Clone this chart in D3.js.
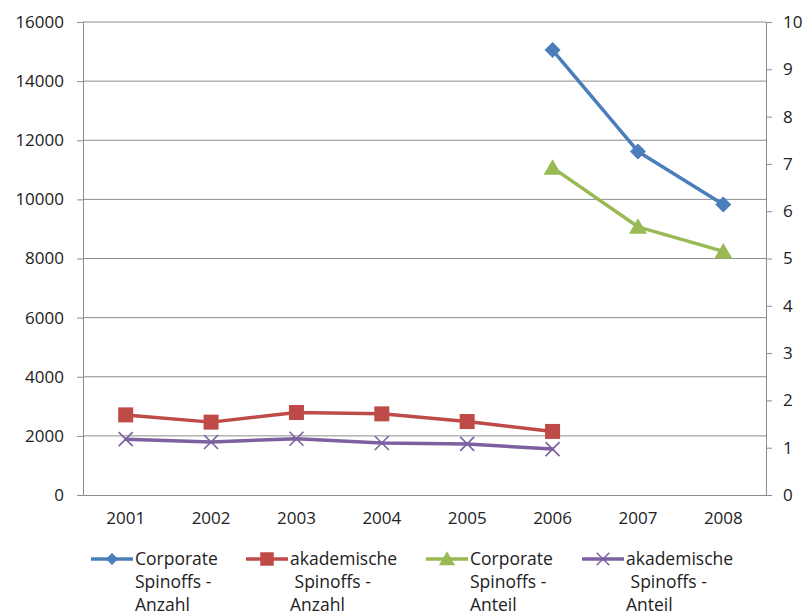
<!DOCTYPE html>
<html>
<head>
<meta charset="utf-8">
<script src="https://cdn.jsdelivr.net/npm/d3@7"></script>
<style>
  body { margin: 0; background: #fff; }
  svg text { font-family: "Open Sans", Lato, sans-serif; fill: #222; }
</style>
</head>
<body>
<svg id="chart" width="808" height="615"></svg>
<script>
// chart data
const years = ['2001', '2002', '2003', '2004', '2005', '2006', '2007', '2008'];
const corporateAnzahl = [null, null, null, null, null, 15050, 11620, 9830];
const akademischeAnzahl = [2710, 2465, 2790, 2745, 2485, 2150, null, null];
const corporateAnteil = [null, null, null, null, null, 6.92, 5.67, 5.15];
const akademischeAnteil = [1.18, 1.12, 1.19, 1.10, 1.08, 0.97, null, null];
const leftTicks = [0, 2000, 4000, 6000, 8000, 10000, 12000, 14000, 16000];
const rightTicks = [0, 1, 2, 3, 4, 5, 6, 7, 8, 9, 10];

const margin = { top: 22, right: 42, bottom: 120, left: 83 };
const width = 808 - margin.left - margin.right;
const height = 615 - margin.top - margin.bottom;

const svg = d3.select('#chart');
const g = svg.append('g').attr('transform', `translate(${margin.left},${margin.top})`);

const x = d3.scaleBand().domain(years).range([0, width]);
const yLeft = d3.scaleLinear().domain([0, 16000]).range([height, 0]);
const yRight = d3.scaleLinear().domain([0, 10]).range([height, 0]);

// gridlines
g.append('g')
  .selectAll('line')
  .data(leftTicks.slice(1))
  .enter().append('line')
  .attr('x1', 0).attr('x2', width)
  .attr('y1', d => yLeft(d)).attr('y2', d => yLeft(d))
  .attr('stroke', '#8c8c8c').attr('stroke-width', 1);

// axes
const leftAxis = g.append('g')
  .call(d3.axisLeft(yLeft).tickValues(leftTicks).tickSize(6).tickPadding(13).tickFormat(d3.format('d')));
const rightAxis = g.append('g')
  .attr('transform', `translate(${width},0)`)
  .call(d3.axisRight(yRight).tickValues(rightTicks).tickSize(6).tickPadding(11).tickFormat(d3.format('d')));
const bottomAxis = g.append('g')
  .attr('transform', `translate(0,${height})`)
  .call(d3.axisBottom(x).tickSize(0).tickPadding(17));

[leftAxis, rightAxis, bottomAxis].forEach(a => {
  a.select('.domain').attr('stroke', '#8c8c8c');
  a.selectAll('.tick line').attr('stroke', '#8c8c8c');
  a.selectAll('text').attr('font-size', 17).style('fill', '#222');
});

const series = [
  { name: ['Corporate', 'Spinoffs -', 'Anzahl'], values: corporateAnzahl, y: yLeft, color: '#4a7ebb', marker: 'diamond' },
  { name: ['akademische', '\u00a0Spinoffs -', 'Anzahl'], values: akademischeAnzahl, y: yLeft, color: '#be4b48', marker: 'square' },
  { name: ['Corporate', 'Spinoffs -', 'Anteil'], values: corporateAnteil, y: yRight, color: '#98b954', marker: 'triangle' },
  { name: ['akademische', '\u00a0Spinoffs -', 'Anteil'], values: akademischeAnteil, y: yRight, color: '#7d60a0', marker: 'cross' }
];

function drawMarker(sel, type, color) {
  if (type === 'diamond') {
    sel.append('path').attr('d', 'M0,-8L8,0L0,8L-8,0Z').attr('fill', color);
  } else if (type === 'square') {
    sel.append('rect').attr('x', -7.5).attr('y', -7.5).attr('width', 15).attr('height', 15).attr('fill', color);
  } else if (type === 'triangle') {
    sel.append('path').attr('d', 'M0,-8.5L9,7L-9,7Z').attr('fill', color);
  } else {
    sel.append('path').attr('d', 'M-7,-7L7,7M-7,7L7,-7').attr('stroke', color).attr('stroke-width', 1.6).attr('fill', 'none');
  }
}

series.forEach(s => {
  const pts = years.map((yr, i) => ({ yr, v: s.values[i] })).filter(p => p.v !== null);
  const line = d3.line()
    .x(p => x(p.yr) + x.bandwidth() / 2)
    .y(p => s.y(p.v));
  g.append('path')
    .datum(pts)
    .attr('d', line)
    .attr('fill', 'none')
    .attr('stroke', s.color)
    .attr('stroke-width', 3.5)
    .attr('stroke-linejoin', 'round')
    .attr('stroke-linecap', 'round');
  g.selectAll(null)
    .data(pts)
    .enter().append('g')
    .attr('transform', p => `translate(${x(p.yr) + x.bandwidth() / 2},${s.y(p.v)})`)
    .each(function () { drawMarker(d3.select(this), s.marker, s.color); });
});

// legend
const legendX = [91, 246, 426, 582];
const legend = svg.append('g');
series.forEach((s, i) => {
  const item = legend.append('g').attr('transform', `translate(${legendX[i]},559)`);
  item.append('line').attr('x1', 0).attr('x2', 42).attr('y1', 0).attr('y2', 0)
    .attr('stroke', s.color).attr('stroke-width', 3.5);
  const m = item.append('g');
  drawMarker(m, s.marker, s.color);
  m.attr('transform', `translate(21,0) scale(${s.marker === 'diamond' ? 0.75 : 0.9})`);
  const t = item.append('text').attr('x', 44).attr('y', 6).attr('font-size', 17.5);
  s.name.forEach((ln, j) => {
    t.append('tspan').attr('x', 44).attr('dy', j === 0 ? 0 : 23).text(ln);
  });
});
</script>
</body>
</html>
